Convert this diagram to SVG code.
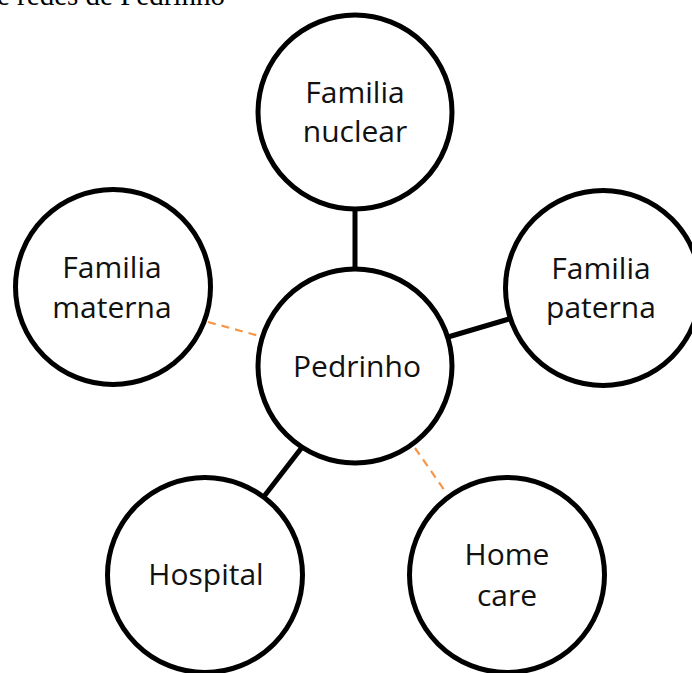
<svg xmlns="http://www.w3.org/2000/svg" width="692" height="673" viewBox="0 0 692 673">
<style>
.node{fill:#fff;stroke:#000;stroke-width:5}
.lbl{font-family:"Open Sans","Noto Sans",sans-serif;font-size:30px;fill:#111;text-anchor:middle}
.solid{stroke:#000;stroke-width:5;fill:none}
.dash{stroke:#F79646;stroke-width:2.2;stroke-dasharray:8 6;fill:none}
.title{font-family:"Liberation Serif","Times New Roman",serif;font-size:29px;fill:#000}
</style>
<rect width="692" height="673" fill="#fff"/>
<text class="title" x="-3" y="5">e redes de Pedrinho</text>
<g id="connectors">
<line class="solid" x1="355" y1="205" x2="355" y2="272"/>
<line class="solid" x1="448" y1="337" x2="509" y2="319"/>
<line class="solid" x1="303" y1="446" x2="262" y2="499"/>
<line class="dash" x1="208" y1="322" x2="263" y2="337"/>
<line class="dash" x1="415" y1="448" x2="447" y2="494"/>
</g>
<g id="nuclear">
<circle class="node" cx="355" cy="112" r="97"/>
<text class="lbl" x="355" y="103">Familia</text>
<text class="lbl" x="355" y="142">nuclear</text>
</g>
<g id="materna">
<circle class="node" cx="113" cy="287" r="97.5"/>
<text class="lbl" x="112" y="278">Familia</text>
<text class="lbl" x="112" y="318">materna</text>
</g>
<g id="paterna">
<circle class="node" cx="603" cy="288" r="97.5"/>
<text class="lbl" x="601" y="279">Familia</text>
<text class="lbl" x="601" y="318">paterna</text>
</g>
<g id="pedrinho">
<circle class="node" cx="355" cy="366" r="97"/>
<text class="lbl" x="357" y="377">Pedrinho</text>
</g>
<g id="hospital">
<circle class="node" cx="205" cy="575" r="97.5"/>
<text class="lbl" x="206" y="585">Hospital</text>
</g>
<g id="homecare">
<circle class="node" cx="507" cy="575" r="97.5"/>
<text class="lbl" x="507" y="565">Home</text>
<text class="lbl" x="507" y="606">care</text>
</g>
</svg>
